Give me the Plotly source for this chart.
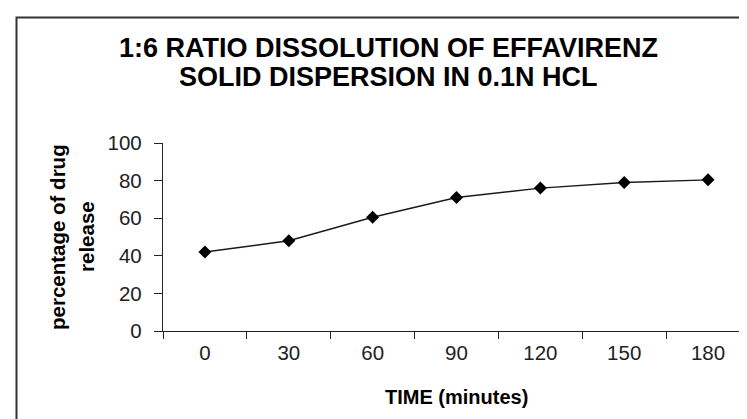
import plotly.graph_objects as go

# Data
time_labels = ["0", "30", "60", "90", "120", "150", "180"]
drug_release = [42, 48, 60.5, 71, 76, 79, 80.4]
y_ticks = [0, 20, 40, 60, 80, 100]

title_line1 = "1:6 RATIO DISSOLUTION OF EFFAVIRENZ"
title_line2 = "SOLID DISPERSION IN 0.1N HCL"
x_title = "TIME (minutes)"
y_title_lines = ["percentage of drug", "release"]

W, H = 747, 419
L, R, T, B = 155, 5, 135, 96
pw = W - L - R
ph = H - T - B

def px_x(px):
    return (px - L) / pw

def px_y(py):
    return (H - B - py) / ph

FONT = "Liberation Sans, Arial, sans-serif"

fig = go.Figure()
fig.add_trace(go.Scatter(
    x=time_labels, y=drug_release, mode="lines+markers",
    line=dict(color="#1a1a1a", width=1.4),
    marker=dict(symbol="diamond", size=10, color="#000000"),
    showlegend=False,
))

fig.update_layout(
    width=W, height=H,
    margin=dict(l=L, r=R, t=T, b=B),
    paper_bgcolor="white", plot_bgcolor="white",
    font=dict(family=FONT, color="#000000"),
    xaxis=dict(
        type="category", range=[-0.5, 6.5],
        tickson="boundaries", ticks="outside", ticklen=7, tickwidth=1.3,
        tickcolor="#222", showline=True, linecolor="#222", linewidth=1.3,
        showgrid=False, tickfont=dict(size=20.5, color="#222"),
        ticklabelstandoff=3,
    ),
    yaxis=dict(
        range=[0, 100], tickvals=y_ticks, ticks="outside", ticklen=8,
        tickwidth=1.3, tickcolor="#222", showline=True, linecolor="#222",
        linewidth=1.3, showgrid=False, zeroline=False,
        tickfont=dict(size=20.5, color="#222"),
        ticklabelstandoff=8,
    ),
)

annots = [
    dict(text="<b>%s</b>" % title_line1, x=px_x(380), y=px_y(40)),
    dict(text="<b>%s</b>" % title_line2, x=px_x(380), y=px_y(69)),
]
for a in annots:
    fig.add_annotation(xref="paper", yref="paper", x=a["x"], y=a["y"],
                       text=a["text"], showarrow=False,
                       xanchor="center", yanchor="middle",
                       font=dict(size=27, family=FONT, color="#000"))

fig.add_annotation(xref="paper", yref="paper", x=px_x(448), y=px_y(389),
                   text="<b>%s</b>" % x_title, showarrow=False,
                   xanchor="center", yanchor="middle",
                   font=dict(size=20, family=FONT, color="#000"))

for cx, line in zip([49, 78], y_title_lines):
    fig.add_annotation(xref="paper", yref="paper", x=px_x(cx), y=px_y(229),
                       text="<b>%s</b>" % line, showarrow=False, textangle=-90,
                       xanchor="center", yanchor="middle",
                       font=dict(size=20.5, family=FONT, color="#000"))

# Outer chart frame
fig.add_shape(type="rect", xref="paper", yref="paper",
              x0=px_x(8.5), x1=px_x(760), y0=px_y(430), y1=px_y(9.5),
              line=dict(color="#333", width=2), fillcolor="rgba(0,0,0,0)",
              layer="below")

fig.write_html("out.html")
